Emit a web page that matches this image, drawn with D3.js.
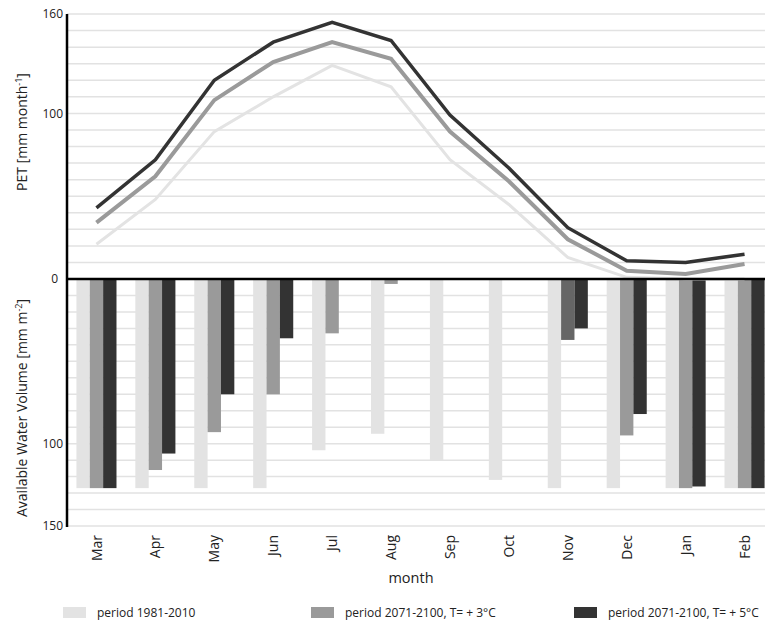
<!DOCTYPE html>
<html>
<head>
<meta charset="utf-8">
<script src="https://cdn.jsdelivr.net/npm/d3@7"></script>
<style>
  html, body { margin: 0; padding: 0; background: #fff; }
  svg { display: block; font-family: "Open Sans", "Noto Sans", sans-serif; }
</style>
</head>
<body>
<svg id="chart" width="765" height="621"></svg>
<script>
// ---------- data ----------
const months = ["Mar","Apr","May","Jun","Jul","Aug","Sep","Oct","Nov","Dec","Jan","Feb"];
const seriesNames = ["period 1981-2010", "period 2071-2100, T= + 3°C", "period 2071-2100, T= + 5°C"];

// PET [mm month-1] (upper panel, lines)
const petBase = [21, 48, 89, 110, 129, 116, 72, 45, 13, 1, 0, 0];
const petT3   = [34, 62, 108, 131, 143, 133, 89, 59, 24, 5, 3, 9];
const petT5   = [43, 72, 120, 143, 155, 144, 99, 67, 31, 11, 10, 15];

// Available Water Volume [mm m-2] (lower panel, bars downward)
const awvBase = [127, 127, 127, 127, 104, 94, 110, 122, 127, 127, 127, 127];
const awvT3   = [127, 116, 93, 70, 33, 3, 0, 0, 37, 95, 127, 127];
const awvT5   = [127, 106, 70, 36, 0, 0, 0, 0, 30, 82, 126, 127];

const petTicks = [0, 100, 160];
const awvTicks = [100, 150];

// ---------- styles ----------
const colors = ["#e3e3e3", "#9a9a9a", "#333333"];
const lineWidths = [3, 4, 3.5];

// ---------- layout ----------
const svg = d3.select("#chart");
const x0 = 67, x1 = 774, zeroY = 279, topY = 14, botY = 526;

const x = d3.scaleBand().domain(months).range([x0, x1]).paddingInner(0.32).paddingOuter(0.16);
const xs = d3.scaleBand().domain([0, 1, 2]).range([0, x.bandwidth()]);
const yTop = d3.scaleLinear().domain([0, 160]).range([zeroY, topY]);
const yBot = d3.scaleLinear().domain([0, 150]).range([zeroY, botY]);

// gridlines
const grid = svg.append("g");
grid.selectAll("line.gt").data(d3.range(10, 161, 10)).join("line")
  .attr("x1", x0).attr("x2", 765)
  .attr("y1", d => yTop(d)).attr("y2", d => yTop(d))
  .attr("stroke", "#e2e2e2").attr("stroke-width", 1.5);
grid.selectAll("line.gb").data(d3.range(10, 151, 10)).join("line")
  .attr("x1", x0).attr("x2", 765)
  .attr("y1", d => yBot(d)).attr("y2", d => yBot(d))
  .attr("stroke", "#e2e2e2").attr("stroke-width", 1.5);

// bars
const awv = [awvBase, awvT3, awvT5];
const barG = svg.append("g");
awv.forEach((vals, si) => {
  barG.selectAll(null).data(vals).join("rect")
    .attr("x", (d, i) => x(months[i]) + xs(si))
    .attr("y", yBot(0))
    .attr("width", xs.bandwidth())
    .attr("height", d => yBot(d) - yBot(0))
    // the reference prints the Nov +3°C bar in a darker grey
    .attr("fill", (d, i) => (si === 1 && months[i] === "Nov") ? "#666666" : colors[si]);
});

// lines
const pet = [petBase, petT3, petT5];
const line = d3.line()
  .x((d, i) => x(months[i]) + x.bandwidth() / 2)
  .y(d => yTop(d));
pet.forEach((vals, si) => {
  svg.append("path").datum(vals)
    .attr("d", line)
    .attr("fill", "none")
    .attr("stroke", colors[si])
    .attr("stroke-width", lineWidths[si])
    .attr("stroke-linejoin", "miter");
});

// zero line
svg.append("line").attr("x1", x0).attr("x2", 765)
  .attr("y1", zeroY).attr("y2", zeroY)
  .attr("stroke", "#000").attr("stroke-width", 2.5);
// vertical axis line
svg.append("line").attr("x1", x0).attr("x2", x0)
  .attr("y1", topY).attr("y2", botY + 1)
  .attr("stroke", "#000").attr("stroke-width", 2.5);

// y tick labels via axes
const axT = svg.append("g").attr("transform", `translate(${x0 - 2},0)`)
  .call(d3.axisLeft(yTop).tickValues(petTicks).tickSize(0).tickPadding(2).tickFormat(d3.format("d")));
const axB = svg.append("g").attr("transform", `translate(${x0 - 2},0)`)
  .call(d3.axisLeft(yBot).tickValues(awvTicks).tickSize(0).tickPadding(2).tickFormat(d3.format("d")));
[axT, axB].forEach(a => {
  a.select(".domain").remove();
  a.selectAll("text").attr("font-size", 12).attr("fill", "#222")
    .attr("font-family", "Open Sans, sans-serif");
});
axT.selectAll(".tick").filter(d => d === 0).select("text").attr("x", -7);

// x axis labels
const axX = svg.append("g").attr("transform", `translate(0,${botY + 1})`)
  .call(d3.axisBottom(x).tickSize(0));
axX.select(".domain").remove();
axX.selectAll("text")
  .attr("transform", "rotate(-90)")
  .attr("text-anchor", "end")
  .attr("x", -8).attr("y", 0).attr("dy", "0.36em")
  .attr("font-size", 14).attr("fill", "#222")
  .attr("font-family", "Open Sans, sans-serif");

// axis titles
svg.append("text").attr("x", 411).attr("y", 583)
  .attr("text-anchor", "middle").attr("font-size", 14.5).attr("fill", "#222")
  .text("month");

const t1 = svg.append("text")
  .attr("transform", "translate(27,132) rotate(-90)")
  .attr("text-anchor", "middle").attr("font-size", 14).attr("fill", "#222");
t1.append("tspan").text("PET [mm month");
t1.append("tspan").attr("dy", -5).attr("font-size", 9).text("-1");
t1.append("tspan").attr("dy", 5).text("]");

const t2 = svg.append("text")
  .attr("transform", "translate(27,408) rotate(-90)")
  .attr("text-anchor", "middle").attr("font-size", 14).attr("fill", "#222");
t2.append("tspan").text("Available Water Volume [mm m");
t2.append("tspan").attr("dy", -5).attr("font-size", 9).text("-2");
t2.append("tspan").attr("dy", 5).text("]");

// legend
const legX = [63, 311, 574];
const leg = svg.append("g");
seriesNames.forEach((name, i) => {
  leg.append("rect").attr("x", legX[i]).attr("y", 607)
    .attr("width", 23).attr("height", 11).attr("fill", colors[i]);
  leg.append("text").attr("x", legX[i] + 34).attr("y", 617)
    .attr("font-size", 12).attr("fill", "#222").text(name);
});
</script>
</body>
</html>
